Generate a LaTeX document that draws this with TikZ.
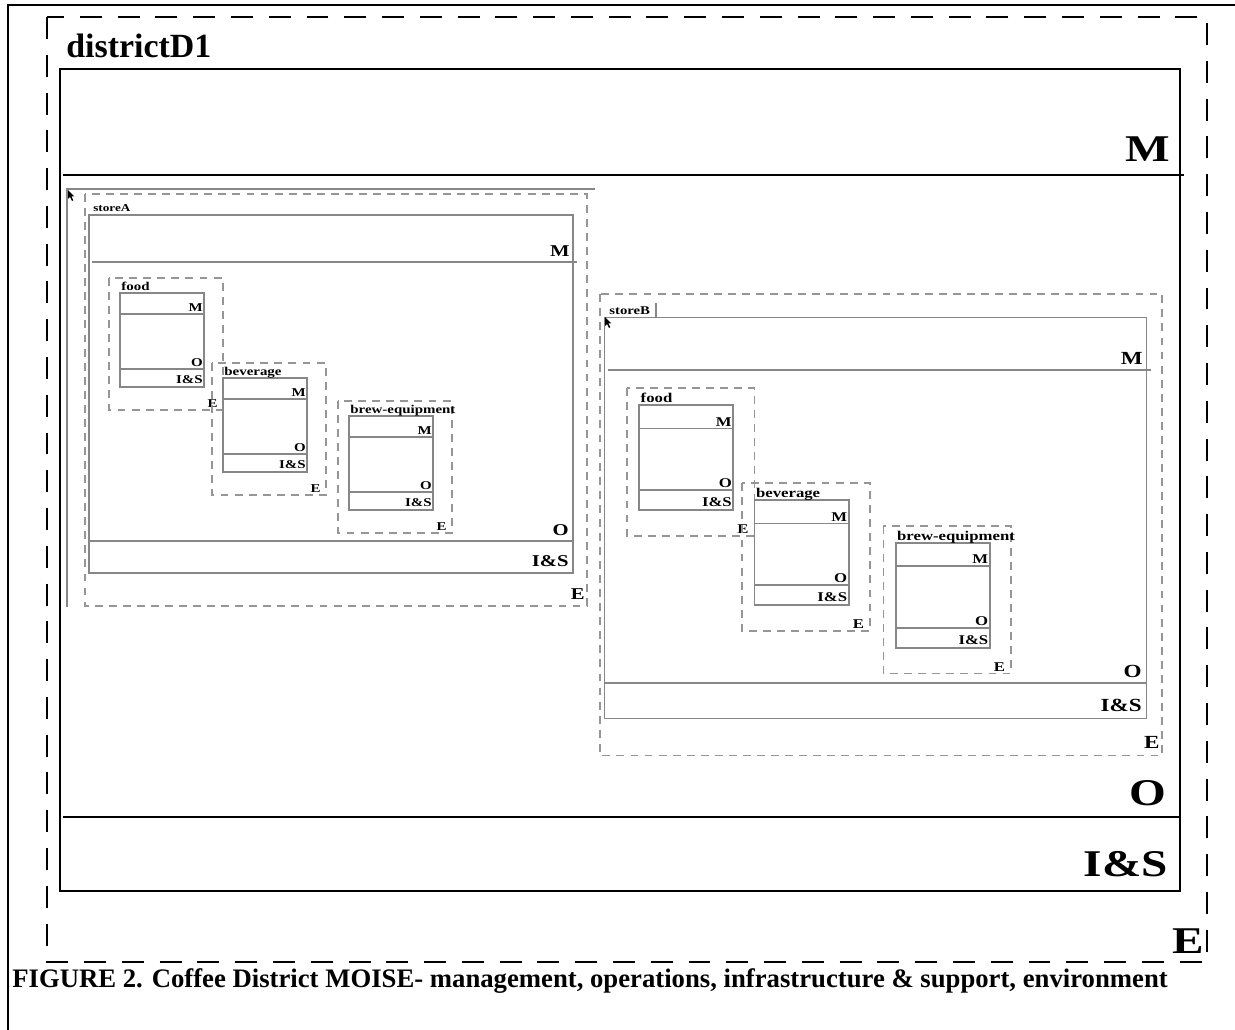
\documentclass[tikz,border=0pt]{standalone}
\usepackage{fontspec}
\setmainfont{Liberation Serif}
\newfontfamily\lblfont[FakeStretch=1.25]{Liberation Serif}
\usepackage{xcolor}
\usepackage{tikz}
\usetikzlibrary{calc}
\definecolor{boxgray}{RGB}{135,135,135}
\definecolor{dashgray}{RGB}{150,150,150}

\tikzset{
  dashbox/.style={draw=black,line width=1.5pt,dash pattern=on 12.5pt off 9pt},
  solidbox/.style={draw=black,line width=1.4pt},
  sdash/.style={draw=dashgray,line width=0.9pt,dash pattern=on 4.5pt off 3.5pt},
  sbox/.style={draw=boxgray,line width=1pt},
  bigtag/.style={font=\lblfont\bfseries\fontsize{21.5}{24}\selectfont,inner sep=0pt,anchor=base east},
  midtag/.style={font=\lblfont\bfseries\fontsize{9.4}{11}\selectfont,inner sep=0pt,anchor=base east},
  smalltag/.style={font=\lblfont\bfseries\fontsize{6.8}{8}\selectfont,inner sep=0pt,anchor=base east},
  grpname/.style={font=\lblfont\bfseries\fontsize{6.8}{8}\selectfont,inner sep=0pt,anchor=base west},
  storename/.style={font=\lblfont\bfseries\fontsize{6}{7}\selectfont,inner sep=0pt,anchor=base west}
}

\begin{document}
\begin{tikzpicture}[x=0.02cm,y=-0.02cm]
  \useasboundingbox (0,0) rectangle (1235,1030);
  \draw[line width=1.4pt] (8,1030) -- (8,5) -- (1235,5);
  % district level
  \draw[dashbox] (47,17) rectangle (1207,962);
  \node[font=\bfseries\fontsize{19.3}{22}\selectfont,inner sep=0pt,anchor=base west] (dname) at (66,58) {districtD1};
  \draw[solidbox] (60,69) rectangle (1180,891);
  \draw[solidbox] (63,175) -- (1184,175);
  \draw[solidbox] (63,817) -- (1180,817);
  \node[bigtag] (dM) at (1170,162) {M};
  \node[bigtag] (dO) at (1167,805) {O};
  \node[bigtag] (dIS) at (1168,876) {I\&S};
  \node[bigtag] (dE) at (1204,953) {E};
  % stores and their groups
  \foreach \sx/\sy/\sc/\nm in {85/194/1/storeA,600/294/1.12/storeB} {
    \begin{scope}[shift={(\sx,\sy)},scale=\sc,transform shape]
      \draw[sdash] (0,0) rectangle (502,412);
      \draw[sbox] (4,21) rectangle (488,379);
      \draw[sbox] (7,68) -- (492,68); \draw[sbox] (4,347) -- (488,347);
      \node[storename] (\nm) at (8,18) {\nm};
      \node[midtag] (\nm-M) at (485,63) {M};
      \node[midtag] (\nm-O) at (484,342) {O};
      \node[midtag] (\nm-IS) at (484,373) {I\&S};
      \node[midtag] (\nm-E) at (500,406) {E};
      \foreach \gx/\gy/\gn in {24/84/food,127/169/beverage,253/207/brew-equipment} {
        \begin{scope}[shift={(\gx,\gy)}]
          \draw[sdash] (0,0) rectangle (114,132);
          \draw[sbox] (11,15) rectangle (95,109);
          \draw[sbox] (11,36) -- (95,36); \draw[sbox] (11,91) -- (95,91);
          \node[grpname] (\nm-\gn) at (12,13) {\gn};
          \node[smalltag] (\nm-\gn-M) at (94,34) {M};
          \node[smalltag] (\nm-\gn-O) at (94,89) {O};
          \node[smalltag] (\nm-\gn-IS) at (94,106) {I\&S};
          \node[smalltag] (\nm-\gn-E) at (109,130) {E};
        \end{scope}
      }
    \end{scope}
  }
  % window edge and pointers
  \draw[sbox] (67,607) -- (67,189) -- (595,189);
  \draw[boxgray,line width=0.8pt] (656,303) -- (656,317);
  \foreach \cx/\cy in {68/190,605/317}
    \fill[black] (\cx,\cy) -- ++(0,9) -- ++(2,-2) -- ++(2,4) -- ++(1.4,-0.7) -- ++(-2,-3.8) -- ++(3,0) -- cycle;
  \node[font=\bfseries\fontsize{15.2}{18}\selectfont,inner sep=0pt,anchor=base west] (cap) at (12,987)
    {FIGURE 2. Coffee District MOISE- management, operations, infrastructure \& support, environment};
\end{tikzpicture}
\end{document}
